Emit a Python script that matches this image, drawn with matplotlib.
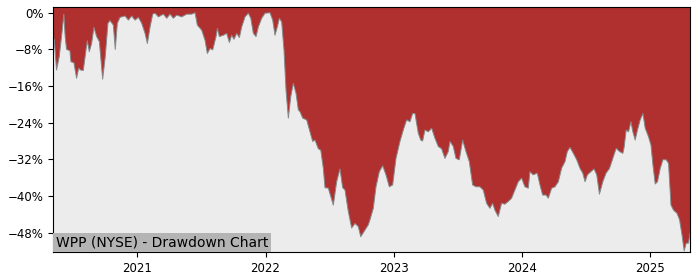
import matplotlib
matplotlib.use("Agg")
import matplotlib.pyplot as plt
import matplotlib.dates as mdates
from matplotlib.ticker import FuncFormatter
import pandas as pd

# drawdown: time as decimal year, drawdown in percent
years = [
    2020.345, 2020.353, 2020.371, 2020.392, 2020.413, 2020.428, 2020.438, 2020.449,
    2020.475, 2020.483, 2020.506, 2020.527, 2020.543, 2020.558, 2020.579, 2020.610,
    2020.626, 2020.644, 2020.662, 2020.683, 2020.704, 2020.730, 2020.750, 2020.771,
    2020.787, 2020.813, 2020.828, 2020.844, 2020.865, 2020.904, 2020.930, 2020.956,
    2020.982, 2021.008, 2021.034, 2021.060, 2021.078, 2021.099, 2021.120, 2021.138,
    2021.164, 2021.203, 2021.229, 2021.255, 2021.281, 2021.307, 2021.346, 2021.385,
    2021.424, 2021.450, 2021.468, 2021.502, 2021.528, 2021.546, 2021.567, 2021.588,
    2021.614, 2021.624, 2021.640, 2021.671, 2021.697, 2021.718, 2021.736, 2021.754,
    2021.775, 2021.796, 2021.814, 2021.840, 2021.866, 2021.885, 2021.905, 2021.926,
    2021.944, 2021.970, 2021.996, 2022.035, 2022.056, 2022.074, 2022.092, 2022.108,
    2022.126, 2022.144, 2022.160, 2022.178, 2022.197, 2022.217, 2022.238, 2022.256,
    2022.269, 2022.290, 2022.321, 2022.347, 2022.368, 2022.386, 2022.412, 2022.431,
    2022.451, 2022.464, 2022.490, 2022.509, 2022.529, 2022.555, 2022.581, 2022.602,
    2022.620, 2022.646, 2022.672, 2022.698, 2022.724, 2022.743, 2022.768, 2022.802,
    2022.815, 2022.841, 2022.862, 2022.888, 2022.914, 2022.940, 2022.966, 2022.992,
    2023.018, 2023.049, 2023.075, 2023.101, 2023.127, 2023.148, 2023.166, 2023.192,
    2023.211, 2023.226, 2023.244, 2023.270, 2023.296, 2023.322, 2023.348, 2023.374,
    2023.400, 2023.426, 2023.439, 2023.465, 2023.486, 2023.512, 2023.538, 2023.564,
    2023.590, 2023.616, 2023.642, 2023.673, 2023.699, 2023.725, 2023.751, 2023.772,
    2023.790, 2023.816, 2023.842, 2023.868, 2023.894, 2023.920, 2023.946, 2023.972,
    2023.998, 2024.024, 2024.050, 2024.063, 2024.089, 2024.120, 2024.141, 2024.162,
    2024.188, 2024.206, 2024.232, 2024.258, 2024.284, 2024.310, 2024.336, 2024.354,
    2024.375, 2024.401, 2024.427, 2024.453, 2024.474, 2024.492, 2024.510, 2024.537,
    2024.562, 2024.583, 2024.604, 2024.630, 2024.656, 2024.682, 2024.713, 2024.734,
    2024.760, 2024.786, 2024.796, 2024.812, 2024.830, 2024.849, 2024.864, 2024.882,
    2024.900, 2024.921, 2024.942, 2024.960, 2024.986, 2025.005, 2025.020, 2025.038,
    2025.056, 2025.077, 2025.098, 2025.124, 2025.142, 2025.161, 2025.181, 2025.208,
    2025.228, 2025.247, 2025.264, 2025.280, 2025.298, 2025.311,
]
drawdown = [
    -5.5, -5.8, -12.5, -9.6, -4.4, -0.3, -5.2, -8.0,
    -8.3, -10.7, -10.9, -14.3, -12.1, -12.5, -12.6, -6.1,
    -8.5, -6.7, -3.2, -5.2, -6.3, -14.5, -9.6, -2.3,
    -1.7, -2.7, -8.0, -2.3, -1.0, -0.7, -1.6, -0.7,
    -1.6, -1.0, -2.3, -4.5, -6.7, -3.1, -0.3, -0.1,
    -0.9, -0.3, -1.2, -0.3, -1.2, -0.5, -0.9, -0.3,
    -0.3, 0.0, -2.7, -3.8, -6.0, -8.9, -7.8, -8.1,
    -5.2, -3.4, -5.2, -4.9, -4.5, -6.5, -4.9, -5.8,
    -4.5, -5.4, -3.1, -0.9, -0.1, -1.2, -4.5, -5.2,
    -3.1, -1.2, -0.1, 0.0, -1.6, -4.9, -3.1, -1.2,
    -2.0, -8.1, -16.9, -23.0, -18.3, -15.4, -17.6, -21.2,
    -21.6, -23.0, -23.4, -26.0, -28.1, -27.8, -29.7, -30.0,
    -34.0, -38.2, -38.3, -40.1, -42.0, -36.9, -34.1, -38.2,
    -38.7, -43.4, -47.0, -46.0, -46.7, -48.9, -47.8, -46.3,
    -45.2, -42.7, -38.0, -34.7, -33.4, -35.4, -38.0, -37.6,
    -31.8, -28.1, -25.6, -23.4, -23.8, -22.0, -22.0, -26.3,
    -27.8, -28.0, -25.6, -26.0, -25.2, -27.4, -29.2, -29.7,
    -31.8, -30.3, -28.1, -29.2, -31.8, -32.1, -27.8, -30.3,
    -32.5, -37.6, -38.0, -38.0, -38.7, -41.6, -42.7, -41.6,
    -43.1, -44.5, -41.6, -41.8, -41.2, -40.5, -38.7, -36.9,
    -36.1, -38.0, -38.3, -34.7, -35.4, -35.0, -37.6, -39.8,
    -39.8, -40.5, -38.3, -38.0, -36.9, -33.9, -32.5, -30.3,
    -29.4, -30.7, -32.1, -34.0, -35.0, -36.9, -35.4, -34.7,
    -34.1, -35.4, -39.6, -36.9, -35.0, -34.0, -31.4, -29.6,
    -30.3, -30.7, -29.4, -25.6, -26.0, -23.8, -26.0, -27.8,
    -25.6, -23.4, -22.0, -25.2, -27.1, -28.9, -33.2, -37.4,
    -36.9, -34.0, -32.1, -32.1, -32.9, -42.0, -43.1, -43.8,
    -45.2, -48.5, -52.0, -50.3, -50.3, -47.8,
]
y_ticks = [0, -8, -16, -24, -32, -40, -48]
title = "WPP (NYSE) - Drawdown Chart"

Y_MIN, Y_MAX = -52.3, 1.2


def to_date(y):
    yr = int(y)
    start = pd.Timestamp(yr, 1, 1)
    end = pd.Timestamp(yr + 1, 1, 1)
    return start + (end - start) * (y - yr)


dates = [to_date(y) for y in years]

fig = plt.figure(figsize=(7, 2.8), dpi=100)
ax = fig.add_axes([0.076, 0.099, 0.910, 0.875])
ax.set_facecolor("#ececec")

# red area runs from the drawdown curve up to the top of the plot
ax.fill_between(dates, drawdown, Y_MAX + 5, facecolor="#b03030", edgecolor="none")
ax.plot(dates, drawdown, color="#888888", linewidth=0.7)

ax.set_xlim(dates[0], dates[-1])
ax.set_ylim(Y_MIN, Y_MAX)
ax.set_yticks(y_ticks)
ax.yaxis.set_major_formatter(FuncFormatter(lambda v, p: f"{v:.0f}%".replace("-", "\u2212")))
ax.xaxis.set_major_locator(mdates.YearLocator())
ax.xaxis.set_major_formatter(mdates.DateFormatter("%Y"))
ax.tick_params(labelsize=8.5)

ax.text(0.004, 0.012, title, transform=ax.transAxes, fontsize=10, ha="left", va="bottom",
        bbox=dict(facecolor="#b4b4b4", edgecolor="none", pad=2))

fig.savefig("out.png", dpi=100)
